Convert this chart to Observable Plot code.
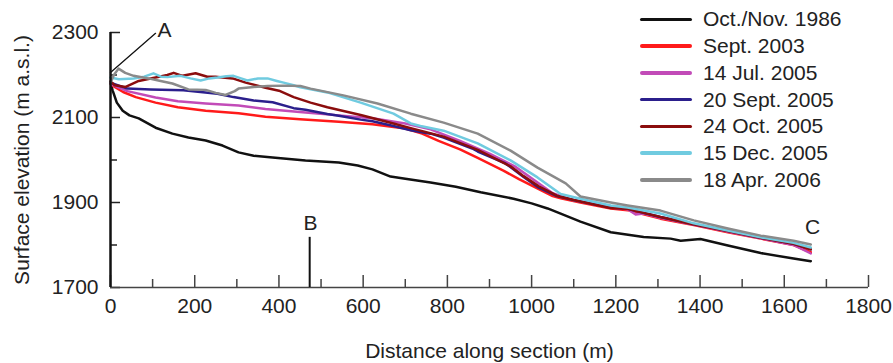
<!DOCTYPE html>
<html>
<head>
<meta charset="utf-8">
<script src="https://cdn.jsdelivr.net/npm/d3@7"></script>
<script src="https://cdn.jsdelivr.net/npm/@observablehq/plot@0.6"></script>
<style>
  body { margin: 0; background: #fff; }
  #wrap { position: relative; width: 893px; height: 363px; font-family: "Liberation Sans", Arial, sans-serif; }
  #legend { position: absolute; left: 640px; top: 6px; }
  .row { display: flex; align-items: center; height: 26.75px; }
  .sw { width: 52px; height: 3.5px; border-radius: 2px; margin-right: 11px; }
  .lt { font-size: 21px; color: #222; white-space: nowrap; }
</style>
</head>
<body>
<div id="wrap"><div id="legend"></div></div>
<script>
// ---- series names and colours ----
const seriesNames = ["Oct./Nov. 1986", "Sept. 2003", "14 Jul. 2005", "20 Sept. 2005", "24 Oct. 2005", "15 Dec. 2005", "18 Apr. 2006"];
const seriesColors = ["#111111", "#ff1a1a", "#c24bb8", "#2b1f8c", "#8b0d0d", "#70cbe0", "#8a8a8a"];

// ---- distances (m) and surface elevations (m a.s.l.) ----
const dist1986 = [0,5,15,29,45,67,107,147,185,226,266,304,340,385,463,542,587,622,665,700,760,820,879,957,1000,1038,1069,1116,1188,1266,1330,1354,1401,1466,1544,1622,1663];
const elev1986 = [2182,2164,2135,2116,2105,2098,2076,2062,2053,2046,2034,2018,2010,2006,1999,1994,1987,1978,1961,1956,1947,1937,1924,1909,1898,1886,1874,1855,1830,1819,1815,1810,1814,1799,1781,1768,1762];

const dist2003 = [0,5,30,60,107,160,226,304,368,450,542,622,700,740,779,830,872,933,970,1010,1050,1069,1116,1188,1228,1266,1306,1385,1466,1544,1622,1663];
const elev2003 = [2180,2175,2160,2148,2135,2124,2116,2110,2102,2096,2090,2084,2074,2062,2045,2025,2005,1975,1955,1935,1915,1910,1900,1886,1882,1872,1862,1847,1830,1815,1800,1783];

const distJul05 = [0,5,40,107,160,226,304,368,463,542,622,700,760,830,900,960,1010,1050,1100,1188,1228,1247,1266,1306,1385,1466,1544,1622,1663];
const elevJul05 = [2182,2177,2162,2147,2138,2133,2128,2120,2112,2105,2098,2086,2072,2045,2015,1985,1950,1922,1905,1888,1884,1872,1874,1864,1848,1832,1816,1800,1780];

const distSep05 = [0,40,95,173,254,292,340,385,435,463,515,542,594,622,672,713,760,791,859,872,938,981,1017,1060,1100,1188,1228,1306,1385,1466,1544,1622,1663];
const elevSep05 = [2182,2168,2166,2164,2156,2148,2140,2136,2122,2118,2108,2104,2095,2091,2080,2070,2062,2053,2027,2020,1992,1960,1935,1915,1906,1888,1885,1866,1849,1833,1817,1803,1790];

const distOct05 = [0,10,36,67,107,135,150,171,202,230,249,290,321,368,400,435,475,515,594,672,713,791,872,950,981,1017,1060,1100,1188,1228,1306,1385,1466,1544,1622,1663];
const elevOct05 = [2185,2176,2172,2186,2194,2200,2205,2198,2204,2196,2196,2192,2182,2170,2163,2148,2135,2124,2106,2086,2075,2055,2024,1985,1962,1938,1916,1906,1887,1885,1866,1849,1833,1817,1803,1790];

const distDec05 = [0,20,55,80,102,120,135,166,190,214,235,254,275,292,310,325,350,373,395,411,435,451,515,594,672,713,736,791,872,950,1014,1069,1116,1188,1228,1306,1385,1466,1544,1622,1663];
const elevDec05 = [2194,2190,2192,2196,2204,2196,2195,2198,2192,2187,2192,2194,2197,2198,2192,2187,2192,2192,2186,2182,2176,2171,2159,2135,2109,2086,2080,2069,2039,1999,1959,1920,1909,1893,1888,1874,1851,1834,1818,1805,1794];

const distApr06 = [0,8,19,35,55,90,119,147,185,226,250,273,295,304,340,373,411,451,475,553,634,713,791,872,950,1014,1081,1116,1188,1228,1306,1385,1466,1544,1622,1663];
const elevApr06 = [2182,2200,2215,2205,2198,2192,2186,2180,2166,2165,2158,2153,2162,2168,2172,2174,2175,2174,2168,2152,2133,2109,2088,2062,2022,1982,1945,1914,1900,1893,1881,1858,1839,1822,1810,1801];

const allDist = [dist1986, dist2003, distJul05, distSep05, distOct05, distDec05, distApr06];
const allElev = [elev1986, elev2003, elevJul05, elevSep05, elevOct05, elevDec05, elevApr06];

// ---- axis ticks ----
const xMajor = [0,200,400,600,800,1000,1200,1400,1600,1800];
const xMinor = [100,300,500,700,900,1100,1300,1500,1700];
const yLabelTicks = [1700,1900,2100,2300];
const yMinor = [1800,2000,2200];

// ---- annotations ----
const annoLabels = ["A", "B", "C"];
const annoX = [128, 475, 1667];
const annoY = [2305, 1851, 1841];
const pointerAx = [0, 107];
const pointerAy = [2206, 2298];
const markerB = 473;
const markerBtop = 1818;

// build table
const rows = [];
allDist.forEach((xs, s) => xs.forEach((x, i) => rows.push({series: seriesNames[s], x, y: allElev[s][i]})));
const annos = annoLabels.map((t, i) => ({t, x: annoX[i], y: annoY[i]}));
const pointer = pointerAx.map((x, i) => ({x, y: pointerAy[i]}));
const plain = (d) => String(d);

const chart = Plot.plot({
  width: 893,
  height: 363,
  marginLeft: 110,
  marginRight: 25,
  marginTop: 32,
  marginBottom: 76,
  style: {fontFamily: "Liberation Sans, Arial, sans-serif", fontSize: "21.5px", color: "#222", background: "#fff"},
  x: {domain: [0, 1800]},
  y: {domain: [1700, 2300]},
  color: {domain: seriesNames, range: seriesColors},
  marks: [
    Plot.axisX({ticks: xMajor, tickSize: 0, tickPadding: 11, fontSize: 21, tickFormat: plain, label: "Distance along section (m)", labelAnchor: "center", labelOffset: 70, labelArrow: "none"}),
    Plot.axisX({ticks: xMajor, tickSize: -12, tickFormat: () => "", label: null, stroke: "#444", strokeWidth: 1.5}),
    Plot.axisX({ticks: xMinor, tickSize: -8, tickFormat: () => "", label: null, stroke: "#444", strokeWidth: 1.5}),
    Plot.axisY({ticks: yLabelTicks, tickSize: 0, tickPadding: 12, fontSize: 21, tickFormat: plain, label: "Surface elevation (m a.s.l.)", labelAnchor: "center", labelOffset: 96, labelArrow: "none"}),
    Plot.axisY({ticks: yLabelTicks, tickSize: -10, tickFormat: () => "", label: null, stroke: "#222", strokeWidth: 1.5}),
    Plot.axisY({ticks: yMinor, tickSize: -7, tickFormat: () => "", label: null, stroke: "#222", strokeWidth: 1.5}),
    Plot.ruleY([1700], {stroke: "#444", strokeWidth: 1.5}),
    Plot.line(rows, {x: "x", y: "y", z: "series", stroke: "series", strokeWidth: 2.5, curve: "linear"}),
    Plot.ruleX([0], {stroke: "#111", strokeWidth: 2.5}),
    Plot.line(pointer, {x: "x", y: "y", stroke: "#111", strokeWidth: 1.3}),
    Plot.ruleX([markerB], {y1: 1700, y2: markerBtop, stroke: "#111", strokeWidth: 2}),
    Plot.text(annos, {x: "x", y: "y", text: "t", fontSize: 21, fill: "#222"})
  ]
});
document.getElementById("wrap").prepend(chart);
chart.style.position = "absolute";
chart.style.left = "0";
chart.style.top = "0";

const legend = document.getElementById("legend");
seriesNames.forEach((n, i) => {
  const r = document.createElement("div");
  r.className = "row";
  r.innerHTML = `<div class="sw" style="background:${seriesColors[i]}"></div><div class="lt">${n}</div>`;
  legend.appendChild(r);
});
</script>
</body>
</html>
